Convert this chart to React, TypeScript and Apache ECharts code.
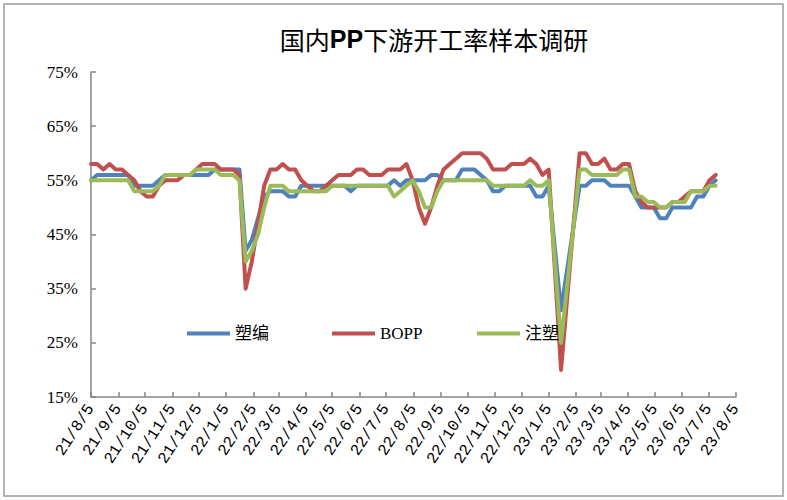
import React, { useEffect, useRef } from "react";
import * as echarts from "echarts";

// weekly survey dates (some holiday weeks missing)
const dates = [
  "2021-08-05", "2021-08-12", "2021-08-19", "2021-08-26", "2021-09-02", "2021-09-09", "2021-09-16", "2021-09-23", "2021-09-30", "2021-10-07",
  "2021-10-14", "2021-10-21", "2021-10-28", "2021-11-04", "2021-11-11", "2021-11-18", "2021-11-25", "2021-12-02", "2021-12-09", "2021-12-16",
  "2021-12-23", "2021-12-30", "2022-01-06", "2022-01-13", "2022-01-20", "2022-01-27", "2022-02-03", "2022-02-10", "2022-02-17", "2022-02-24",
  "2022-03-03", "2022-03-10", "2022-03-17", "2022-03-24", "2022-03-31", "2022-04-07", "2022-04-14", "2022-04-21", "2022-04-28", "2022-05-05",
  "2022-05-12", "2022-05-19", "2022-05-26", "2022-06-02", "2022-06-09", "2022-06-16", "2022-06-23", "2022-06-30", "2022-07-07", "2022-07-14",
  "2022-07-21", "2022-07-28", "2022-08-04", "2022-08-11", "2022-08-18", "2022-08-25", "2022-09-01", "2022-09-08", "2022-09-15", "2022-09-22",
  "2022-09-29", "2022-10-06", "2022-10-13", "2022-10-20", "2022-10-27", "2022-11-03", "2022-11-10", "2022-11-17", "2022-11-24", "2022-12-01",
  "2022-12-08", "2022-12-15", "2022-12-22", "2022-12-29",
  "2023-01-05", "2023-01-19",
  "2023-02-09", "2023-02-16", "2023-02-23", "2023-03-02", "2023-03-09", "2023-03-16", "2023-03-23", "2023-03-30", "2023-04-06", "2023-04-13",
  "2023-04-20", "2023-04-27", "2023-05-04", "2023-05-11", "2023-05-18", "2023-05-25", "2023-06-01", "2023-06-08", "2023-06-15", "2023-06-22",
  "2023-06-29", "2023-07-06", "2023-07-13",
];

const suBian = [
  55, 56, 56, 56, 56, 56, 56, 54, 54, 54,
  54, 55, 56, 56, 56, 56, 56, 56, 56, 56,
  57, 57, 57, 57, 57, 42, 44, 48, 52, 53,
  53, 53, 52, 52, 54, 54, 54, 54, 54, 54,
  54, 54, 53, 54, 54, 54, 54, 54, 54, 55,
  54, 55, 55, 55, 55, 56, 56, 55, 55, 55,
  57, 57, 57, 56, 55, 53, 53, 54, 54, 54,
  54, 54, 52, 52,
  54, 31,
  54, 54, 55, 55, 55, 54, 54, 54, 54, 52,
  50, 50, 50, 48, 48, 50, 50, 50, 50, 52,
  52, 54, 55,
];

const bopp = [
  58, 58, 57, 58, 57, 57, 56, 55, 53, 52,
  52, 54, 55, 55, 55, 56, 56, 57, 58, 58,
  58, 57, 57, 57, 56, 35, 40, 47, 54, 57,
  57, 58, 57, 57, 55, 54, 53, 53, 54, 55,
  56, 56, 56, 57, 57, 56, 56, 56, 57, 57,
  57, 58, 55, 50, 47, 50, 54, 57, 58, 59,
  60, 60, 60, 60, 59, 57, 57, 57, 58, 58,
  58, 59, 58, 56,
  57, 20,
  60, 60, 58, 58, 59, 57, 57, 58, 58, 53,
  51, 50, 50, 50, 50, 51, 51, 52, 53, 53,
  53, 55, 56,
];

const zhuSu = [
  55, 55, 55, 55, 55, 55, 55, 53, 53, 53,
  53, 54, 56, 56, 56, 56, 56, 57, 57, 57,
  57, 56, 56, 56, 55, 40, 42, 45, 50, 54,
  54, 54, 53, 53, 53, 53, 53, 53, 53, 54,
  54, 54, 54, 54, 54, 54, 54, 54, 54, 52,
  53, 54, 55, 53, 50, 50, 53, 55, 55, 55,
  55, 55, 55, 55, 55, 54, 54, 54, 54, 54,
  54, 55, 54, 54,
  55, 25,
  57, 57, 56, 56, 56, 56, 56, 57, 57, 52,
  52, 51, 51, 50, 50, 51, 51, 51, 53, 53,
  53, 54, 54,
];

const seriesNames = ["塑编", "BOPP", "注塑"];
const seriesColors = ["#4F81BD", "#C0504D", "#9BBB59"];

const tickDates = [
  "2021-08-05", "2021-09-05", "2021-10-05", "2021-11-05", "2021-12-05", "2022-01-05", "2022-02-05",
  "2022-03-05", "2022-04-05", "2022-05-05", "2022-06-05", "2022-07-05", "2022-08-05", "2022-09-05",
  "2022-10-05", "2022-11-05", "2022-12-05", "2023-01-05", "2023-02-05", "2023-03-05", "2023-04-05",
  "2023-05-05", "2023-06-05", "2023-07-05", "2023-08-05",
];
const tickLabels = [
  "21/8/5", "21/9/5", "21/10/5", "21/11/5", "21/12/5", "22/1/5", "22/2/5",
  "22/3/5", "22/4/5", "22/5/5", "22/6/5", "22/7/5", "22/8/5", "22/9/5",
  "22/10/5", "22/11/5", "22/12/5", "23/1/5", "23/2/5", "23/3/5", "23/4/5",
  "23/5/5", "23/6/5", "23/7/5", "23/8/5",
];
const yTicks = [15, 25, 35, 45, 55, 65, 75];

// day number of a date (UTC based, DST-free)
const toDay = (s: string) => {
  const [y, m, d] = s.split("-").map(Number);
  return Date.UTC(y, m - 1, d) / 86400000;
};

export default function App() {
  const ref = useRef<HTMLDivElement>(null);
  useEffect(() => {
    const chart = echarts.init(ref.current!, null, { renderer: "svg" });
    const tickDays = tickDates.map(toDay);
    const serif = "'Liberation Serif', 'Times New Roman', 'Noto Sans CJK SC', serif";
    const mono = "'Liberation Mono', 'Courier New', monospace";
    const axisColor = "#868686";
    const values = [suBian, bopp, zhuSu];
    const series = seriesNames.map((name, si) => ({
      name,
      type: "line",
      data: dates.map((d, i) => [toDay(d), values[si][i]]),
      showSymbol: false,
      symbol: "none",
      lineStyle: { color: seriesColors[si], width: 4, join: "round", cap: "round" },
      itemStyle: { color: seriesColors[si] },
    }));
    const legendLefts = [187, 332, 477];
    const legend = seriesNames.map((name, i) => ({
      data: [name],
      left: legendLefts[i],
      top: 325,
      padding: 0,
      icon: "rect",
      itemWidth: 43,
      itemHeight: 4,
      textStyle: { color: "#000", fontSize: 17, fontFamily: serif },
    }));
    chart.setOption({
      animation: false,
      backgroundColor: "#fff",
      grid: { left: 91, right: 51, top: 72, bottom: 103, containLabel: false, outerBoundsMode: "none" },
      xAxis: {
        type: "value",
        min: tickDays[0],
        max: tickDays[tickDays.length - 1],
        scale: true,
        splitLine: { show: false },
        axisLine: { show: true, onZero: false, lineStyle: { color: axisColor, width: 1.5 } },
        axisTick: {
          show: true,
          inside: true,
          length: 5,
          customValues: tickDays,
          lineStyle: { color: axisColor, width: 1.5 },
        },
        axisLabel: {
          customValues: tickDays,
          rotate: 57,
          margin: 9,
          color: "#000",
          fontSize: 16,
          fontFamily: mono,
          hideOverlap: false,
          formatter: (v: number) => {
            const i = tickDays.indexOf(v);
            return i >= 0 ? tickLabels[i] : "";
          },
        },
      },
      yAxis: {
        type: "value",
        min: yTicks[0],
        max: yTicks[yTicks.length - 1],
        splitLine: { show: false },
        axisLine: { show: true, lineStyle: { color: axisColor, width: 1.5 } },
        axisTick: {
          show: true,
          inside: true,
          length: 5,
          customValues: yTicks,
          lineStyle: { color: axisColor, width: 1.5 },
        },
        axisLabel: {
          customValues: yTicks,
          margin: 13,
          color: "#000",
          fontSize: 17,
          fontFamily: serif,
          formatter: "{value}%",
        },
      },
      legend,
      series,
      graphic: [
        {
          type: "rect",
          z: -1,
          shape: { x: 4, y: 4, width: 779, height: 492 },
          style: { fill: "none", stroke: "#9b9b9b", lineWidth: 1.5 },
        },
        {
          type: "text",
          x: 434,
          y: 39,
          style: {
            text: "国内{b|PP}下游开工率样本调研",
            textAlign: "center",
            textVerticalAlign: "middle",
            fontSize: 25,
            fontFamily: "'Noto Sans CJK SC', sans-serif",
            fill: "#000",
            rich: {
              b: { fontSize: 25, fontWeight: "bold", fontFamily: "'Liberation Sans', Arial, sans-serif", fill: "#000" },
            },
          },
        },
      ],
    });
    return () => chart.dispose();
  }, []);
  return (
    <div
      ref={ref}
      style={{ position: "absolute", left: 0, top: 0, width: 787, height: 500, background: "#fff" }}
    />
  );
}
